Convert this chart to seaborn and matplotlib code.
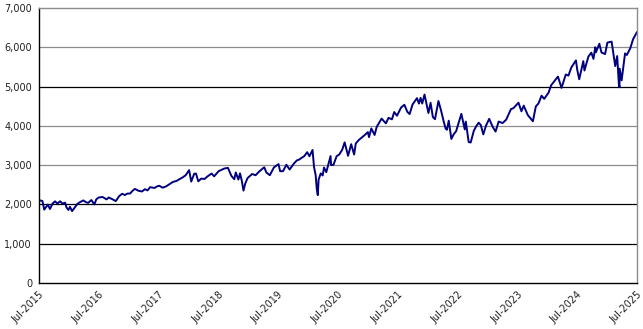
import matplotlib
matplotlib.use("Agg")
import matplotlib.pyplot as plt
import matplotlib.dates as mdates
import pandas as pd
import seaborn as sns

# index level, dates
dates = [
    "2015-07-01", "2015-07-12", "2015-07-22", "2015-08-02", "2015-08-10", "2015-08-24",
    "2015-09-06", "2015-09-22", "2015-10-07", "2015-10-21", "2015-11-07", "2015-11-21",
    "2015-12-08", "2015-12-16", "2015-12-28", "2016-01-06", "2016-01-19", "2016-02-06",
    "2016-02-21", "2016-03-08", "2016-03-28", "2016-04-13", "2016-04-26", "2016-05-16",
    "2016-06-03", "2016-06-15", "2016-06-29", "2016-07-23", "2016-08-17", "2016-08-30",
    "2016-09-21", "2016-10-12", "2016-11-02", "2016-11-20", "2016-12-07", "2016-12-21",
    "2017-01-08", "2017-01-23", "2017-02-06", "2017-02-27", "2017-03-21", "2017-04-08",
    "2017-04-24", "2017-05-10", "2017-06-06", "2017-06-21", "2017-07-04", "2017-07-26",
    "2017-08-16", "2017-09-06", "2017-09-27", "2017-10-16", "2017-11-07", "2017-11-25",
    "2017-12-13", "2018-01-03", "2018-01-16", "2018-02-03", "2018-02-14", "2018-02-28",
    "2018-03-18", "2018-04-07", "2018-04-25", "2018-05-20", "2018-06-05", "2018-07-02",
    "2018-08-06", "2018-08-28", "2018-09-18", "2018-10-06", "2018-10-15", "2018-10-31",
    "2018-11-10", "2018-11-21", "2018-12-01", "2018-12-12", "2018-12-26", "2019-01-23",
    "2019-02-13", "2019-03-06", "2019-04-07", "2019-04-20", "2019-05-11", "2019-06-05",
    "2019-07-03", "2019-07-13", "2019-07-31", "2019-08-20", "2019-09-09", "2019-10-05",
    "2019-10-23", "2019-11-06", "2019-11-23", "2019-12-08", "2019-12-25", "2020-01-08",
    "2020-01-27", "2020-02-05", "2020-02-15", "2020-02-22", "2020-02-28", "2020-03-04",
    "2020-03-17", "2020-03-29", "2020-04-06", "2020-04-20", "2020-05-16", "2020-05-19",
    "2020-06-03", "2020-06-22", "2020-07-08", "2020-07-26", "2020-08-10", "2020-08-31",
    "2020-09-19", "2020-10-07", "2020-10-17", "2020-11-04", "2020-11-25", "2020-12-08",
    "2020-12-30", "2021-01-06", "2021-01-20", "2021-02-09", "2021-02-22", "2021-03-24",
    "2021-04-19", "2021-05-05", "2021-05-26", "2021-06-09", "2021-06-26", "2021-07-21",
    "2021-08-10", "2021-08-28", "2021-09-11", "2021-09-29", "2021-10-26", "2021-11-07",
    "2021-11-17", "2021-11-27", "2021-12-11", "2022-01-04", "2022-01-17", "2022-01-31",
    "2022-02-13", "2022-03-06", "2022-03-22", "2022-04-06", "2022-04-19", "2022-04-27",
    "2022-05-08", "2022-05-24", "2022-06-07", "2022-06-22", "2022-07-24", "2022-08-14",
    "2022-08-20", "2022-09-07", "2022-09-19", "2022-10-08", "2022-10-23", "2022-11-07",
    "2022-11-20", "2022-12-05", "2022-12-21", "2023-01-10", "2023-02-01", "2023-02-18",
    "2023-03-09", "2023-04-02", "2023-04-24", "2023-05-23", "2023-06-07", "2023-07-08",
    "2023-07-26", "2023-08-09", "2023-09-03", "2023-10-04", "2023-10-22", "2023-11-07",
    "2023-11-26", "2023-12-12", "2024-01-08", "2024-01-23", "2024-03-05", "2024-03-27",
    "2024-04-22", "2024-05-08", "2024-05-26", "2024-06-23", "2024-07-01", "2024-07-13",
    "2024-08-07", "2024-08-14", "2024-09-07", "2024-09-25", "2024-10-08", "2024-10-19",
    "2024-10-23", "2024-11-13", "2024-11-26", "2024-12-18", "2025-01-01", "2025-01-27",
    "2025-02-18", "2025-03-02", "2025-03-12", "2025-03-16", "2025-03-17", "2025-03-29",
    "2025-04-19", "2025-04-30", "2025-05-21", "2025-06-07", "2025-06-17", "2025-07-01",
]
values = [
    2090, 2100, 2085, 1868, 1914, 1996,
    1884, 2023, 2079, 2023, 2080, 2021,
    2044, 1922, 1859, 1940, 1829, 1932,
    2015, 2060, 2102, 2057, 2040, 2112,
    2000, 2130, 2175, 2190, 2128, 2177,
    2133, 2085, 2213, 2271, 2239, 2275,
    2279, 2350, 2395, 2349, 2329, 2388,
    2357, 2439, 2419, 2459, 2475, 2426,
    2461, 2519, 2575, 2594, 2648, 2690,
    2743, 2873, 2581, 2780, 2786, 2588,
    2657, 2648, 2712, 2786, 2716, 2846,
    2914, 2931, 2729, 2641, 2814, 2633,
    2790, 2600, 2351, 2532, 2671, 2775,
    2743, 2834, 2946, 2812, 2744, 2942,
    3026, 2845, 2847, 3010, 2888, 3040,
    3120, 3141, 3191, 3231, 3330, 3226,
    3386, 2954, 2747, 2386, 2237, 2630,
    2790, 2737, 2940, 2820, 3232, 3002,
    3009, 3227, 3271, 3390, 3580, 3237,
    3534, 3270, 3550, 3638, 3709, 3756,
    3841, 3714, 3934, 3768, 3974, 4185,
    4063, 4204, 4166, 4352, 4258, 4468,
    4537, 4358, 4300, 4545, 4705, 4567,
    4712, 4568, 4797, 4327, 4587, 4225,
    4170, 4632, 4392, 4132, 3930, 3901,
    4132, 3666, 3785, 3863, 4305, 3908,
    4110, 3586, 3577, 3872, 3992, 4080,
    4019, 3783, 3999, 4179, 3970, 3855,
    4109, 4071, 4158, 4426, 4450, 4589,
    4370, 4515, 4274, 4117, 4496, 4568,
    4768, 4688, 4846, 5030, 5254, 4967,
    5308, 5278, 5487, 5667, 5427, 5186,
    5648, 5408, 5762, 5864, 5705, 6001,
    5870, 6090, 5867, 5827, 6119, 6144,
    5521, 5777, 5074, 4983, 5457, 5158,
    5844, 5803, 5977, 6205, 6280, 6389,
]

y_ticks = [0, 1000, 2000, 3000, 4000, 5000, 6000, 7000]
x_tick_years = list(range(2015, 2026))

df = pd.DataFrame({"date": pd.to_datetime(dates), "value": values})

sns.set_style("white")
plt.rcParams["font.family"] = ["DejaVu Sans"]

fig = plt.figure(figsize=(6.43, 3.29), dpi=100)
ax = fig.add_axes([39 / 643, 1 - 283 / 329, 598 / 643, 275 / 329])

sns.lineplot(data=df, x="date", y="value", color="#000080", linewidth=1.4, ax=ax)

ax.set_xlim(pd.Timestamp("2015-07-01"), pd.Timestamp("2025-07-01"))
ax.set_ylim(0, 7000)
ax.set_yticks(y_ticks)
ax.yaxis.set_major_formatter(matplotlib.ticker.FuncFormatter(lambda v, p: f"{int(v):,}"))
ax.set_xticks([pd.Timestamp(f"{y}-07-01") for y in x_tick_years])
ax.xaxis.set_major_formatter(mdates.DateFormatter("Jul-%Y"))
ax.set_xlabel("")
ax.set_ylabel("")

ax.tick_params(axis="both", direction="out", length=3, width=0.8, colors="#222222",
               labelsize=7, pad=2)
for lab in ax.get_xticklabels():
    lab.set_rotation(45)
    lab.set_ha("right")
    lab.set_rotation_mode("anchor")

# gridlines: some render dark, some grey in the original
grid_colors = {1000: "black", 2000: "black", 3000: "#8c8c8c", 4000: "#8c8c8c",
               5000: "black", 6000: "#8c8c8c"}
for v, c in grid_colors.items():
    ax.axhline(v, color=c, linewidth=0.9, zorder=0)

for side in ["left", "bottom"]:
    ax.spines[side].set_color("black")
    ax.spines[side].set_linewidth(1.0)
for side in ["top", "right"]:
    ax.spines[side].set_color("#8c8c8c")
    ax.spines[side].set_linewidth(1.0)

fig.savefig("out.png", dpi=100)
plt.close(fig)
